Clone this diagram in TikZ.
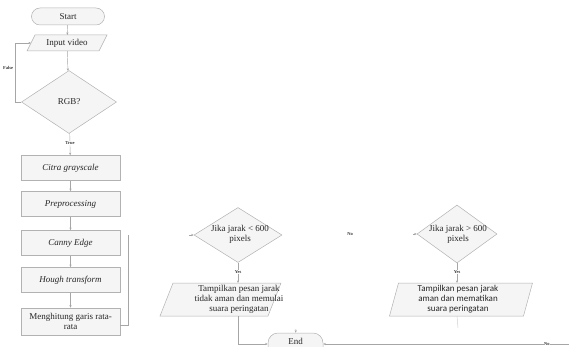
\documentclass[tikz,border=0pt]{standalone}
\usepackage{fontspec}
\setmainfont{Liberation Serif}
\newfontfamily\calib{Carlito}
\usetikzlibrary{shapes.geometric,calc,arrows.meta}
\begin{document}
\begin{tikzpicture}[x=1pt,y=-1pt,
  base/.style={font=\fontsize{9}{10}\selectfont, inner sep=0pt, align=center, text=black!85},
  shapebox/.style={draw=gray!60, fill=gray!8, line width=0.5pt},
  proc/.style={base, shapebox, minimum width=99pt, minimum height=25pt},
  term/.style={base, shapebox, rounded corners=8.5pt, minimum width=73pt, minimum height=17pt},
  dia/.style={shapebox, diamond, inner sep=0pt},
  ghost/.style={inner sep=0pt, outer sep=0pt, draw=none},
  lab/.style={font=\fontsize{4.5}{5}\selectfont\bfseries, inner sep=0.6pt, text=black!80},
  conn/.style={draw=gray!70, line width=0.45pt, -{Stealth[length=2.6pt,width=2.2pt]}},
  plain/.style={draw=gray!70, line width=0.45pt}
]
\useasboundingbox (0,0) rectangle (569,347);
\clip (0,0) rectangle (569,347);

% ---- left column ----
\node[term] (start) at (68,16.5) {Start};

\node[ghost, minimum width=72pt, minimum height=16pt] (inp) at (67,43) {};
\filldraw[shapebox] ($(inp.north west)+(4,0)$) -- ($(inp.north east)+(4,0)$)
  -- ($(inp.south east)+(-4,0)$) -- ($(inp.south west)+(-4,0)$) -- cycle;
\node[base] (inpt) at (inp.center) {Input video};

\node[dia, minimum width=95pt, minimum height=63pt] (rgb) at (69,102) {};
\node[base] (rgbt) at (rgb.center) {RGB?};

\node[proc] (cg) at (70.5,168) {\textit{Citra grayscale}};
\node[proc] (pre) at (70.5,204) {\textit{Preprocessing}};
\node[proc] (can) at (70.5,243) {\textit{Canny Edge}};
\node[proc] (hou) at (70.5,280) {\textit{Hough transform}};
\node[proc, minimum height=27pt] (mh) at (70.5,321.5) {Menghitung garis rata-\\rata};

\draw[conn] (start) -- (inp);
\draw[conn] (inp) -- (rgb);
\coordinate (fl) at (15,102);
\draw[conn] (rgb.west) -- (fl) |- (inp.west);
\node[lab] (false) at (8,68) {False};
\draw[conn] (rgb) -- (cg) node[lab, pos=0.45, fill=white] (true) {True};
\draw[conn] (cg) -- (pre);
\draw[conn] (pre) -- (can);
\draw[conn] (can) -- (hou);
\draw[conn] (hou) -- (mh);

\coordinate (mr) at (128,325);
\coordinate (mt) at (128,235);
\draw[plain] (mh.east |- mr) -- (mr) -- (mt);

% ---- decision 1 ----
\node[dia, minimum width=88pt, minimum height=55pt] (d1) at (238,235) {};
\node[base] (d1t) at (240,234) {Jika jarak < 600\\pixels};
\coordinate (d1in) at (189,235);
\draw[conn] (d1in) -- (d1.west);

\node[lab] (no1) at (350,234) {No};

\node[ghost, minimum width=108pt, minimum height=33pt] (p1) at (220.5,299.5) {};
\filldraw[shapebox] ($(p1.north west)+(6.5,0)$) -- ($(p1.north east)+(6.5,0)$)
  -- ($(p1.south east)+(-6.5,0)$) -- ($(p1.south west)+(-6.5,0)$) -- cycle;
\node[base] (p1t) at (239,299.5) {Tampilkan pesan jarak\\tidak aman dan memulai\\suara peringatan};

\draw[conn] (d1.south) -- (d1.south |- p1.north) node[lab, pos=0.45, fill=white] (yes1) {Yes};

% ---- decision 2 ----
\node[dia, minimum width=80pt, minimum height=58pt] (d2) at (457,234) {};
\node[base] (d2t) at (458,234) {Jika jarak > 600\\pixels};
\coordinate (d2in) at (413,234);
\draw[conn] (d2in) -- (d2.west);

\node[ghost, minimum width=134pt, minimum height=33pt] (p2) at (461,299.5) {};
\filldraw[shapebox] ($(p2.north west)+(4.5,0)$) -- ($(p2.north east)+(4.5,0)$)
  -- ($(p2.south east)+(-4.5,0)$) -- ($(p2.south west)+(-4.5,0)$) -- cycle;
\node[base, font=\calib\fontsize{9}{10}\selectfont] (p2t) at (458,299.5) {Tampilkan pesan jarak\\aman dan mematikan\\suara peringatan};

\draw[conn] (d2.south) -- (d2.south |- p2.north) node[lab, pos=0.45, fill=white] (yes2) {Yes};

% ---- end ----
\node[term, minimum width=55pt, minimum height=24pt, rounded corners=10pt] (end) at (295.5,345) {};
\node[base] (endt) at (295.5,341) {End};
\coordinate (j1) at (238,344);
\draw[conn] (d1.south |- p1.south) -- (j1) -- (end.west |- j1);
\coordinate (p2x) at (458,328);
\draw[plain, draw=gray!40] (d2.south |- p2.south) -- (p2x);
\coordinate (rin) at (569,344);
\draw[conn] (rin) -- (end.east |- rin) node[lab, pos=0.09, fill=white] (no2) {No};
\coordinate (et) at (296,329);
\draw[conn] (et) -- (end.north);
\end{tikzpicture}
\end{document}
